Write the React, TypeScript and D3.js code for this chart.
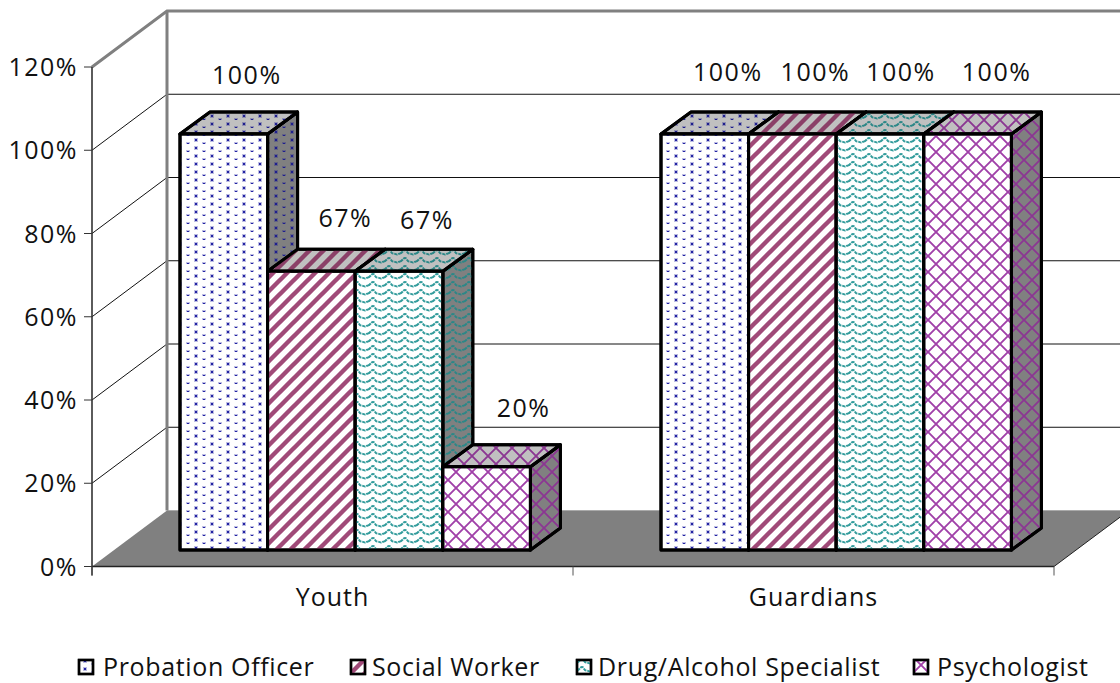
import React from 'react';
import * as d3 from 'd3';

const categories = ['Youth', 'Guardians'];
const seriesNames = ['Probation Officer', 'Social Worker', 'Drug/Alcohol Specialist', 'Psychologist'];
const youthValues = [1, 0.67, 0.67, 0.2];
const guardianValues = [1, 1, 1, 1];
const yTicks = [0, 0.2, 0.4, 0.6, 0.8, 1, 1.2];
const seriesColors = ['#2424a4', '#a04a78', '#339c9c', '#a040a8'];
const valueLabels = [
  ['100%', '67%', '67%', '20%'],
  ['100%', '100%', '100%', '100%'],
];
// label position tweaks relative to the bar centre and bar top
const labelDx = [[23, 34, 28, 37], [23, 23, 21, 29]];
const labelDy = [[-50, -44, -42, -50], [-53, -53, -53, -53]];
const legendSwatchX = [79, 351, 577, 914];
const legendTextX = [103, 372, 598, 937];

const W = 1120, H = 683;
const FONT = '"Open Sans", "Noto Sans", sans-serif';
const axisX = 92, depthX = 75, depthY = 56;
const barDX = 30, barDY = 22;
const y = d3.scaleLinear().domain([0, 1.2]).range([566.5, 67]);
const x = d3.scaleBand<string>().domain(categories).range([axisX, 1054]);
const barY = d3.scaleLinear().domain([0, 1]).range([550, 134]);
const barW = 87.6;
const groupOffset = 88;

function patternContent(i: number, color: string) {
  if (i === 0) return (
    <g fill={color}>
      <rect x={2} y={2} width={4} height={4} opacity={0.3} />
      <rect x={3} y={3} width={2} height={2} />
      <rect x={10} y={6} width={4} height={4} opacity={0.3} />
      <rect x={11} y={7} width={2} height={2} />
    </g>
  );
  if (i === 1) return <g stroke={color} strokeWidth={4.4} fill="none"><path d="M-4,4 L4,-4 M-4,18 L18,-4 M10,18 L18,10" /></g>;
  if (i === 2) return <path d="M0,5.5 C2,5.5 3,2 5,2 C7,2 7,5.5 9,5.5 C11,5.5 12,6.5 13,6.5 C14,6.5 15,5.5 16,5.5" stroke={color} strokeWidth={2} fill="none" strokeDasharray="3.5 0.8" />;
  return <g stroke={color} strokeWidth={1.9} fill="none"><path d="M0,0 L16,16 M16,0 L0,16" /></g>;
}
const patternSizes = [[16, 8], [14, 14], [16, 8], [16, 16]];

function Bar({ gx, i, v }: { gx: number; i: number; v: number }) {
  const x0 = gx + i * barW, x1 = x0 + barW;
  const yT = barY(v), yB = barY(0);
  const pt = (a: number[][]) => a.map((p) => p.join(',')).join(' ');
  const top = pt([[x0, yT], [x0 + barDX, yT - barDY], [x1 + barDX, yT - barDY], [x1, yT]]);
  const side = pt([[x1, yT], [x1 + barDX, yT - barDY], [x1 + barDX, yB - barDY], [x1, yB]]);
  return (
    <g stroke="#000" strokeWidth={3} strokeLinejoin="round">
      <polygon points={side} fill="#808080" />
      <polygon points={side} fill={`url(#p${i}s)`} />
      <polygon points={top} fill="#c0c0c0" />
      <polygon points={top} fill={`url(#p${i}s)`} />
      <rect x={x0} y={yT} width={barW} height={yB - yT} fill="#fff" />
      <rect x={x0} y={yT} width={barW} height={yB - yT} fill={`url(#p${i})`} />
    </g>
  );
}

export default function App() {
  const values = [youthValues, guardianValues];
  return (
    <svg width={W} height={H} viewBox={`0 0 ${W} ${H}`} style={{ position: 'absolute', left: 0, top: 0, background: '#fff' }} fontFamily={FONT} fill="#111">
      <defs>
        {seriesColors.map((c, i) => (
          <React.Fragment key={i}>
            <pattern id={`p${i}`} width={patternSizes[i][0]} height={patternSizes[i][1]} patternUnits="userSpaceOnUse">{patternContent(i, c)}</pattern>
            <pattern id={`p${i}s`} width={patternSizes[i][0]} height={patternSizes[i][1]} patternUnits="userSpaceOnUse">{patternContent(i, d3.color(c)!.darker(0.4).formatHex())}</pattern>
            <pattern id={`l${i}`} width={patternSizes[i][0]} height={patternSizes[i][1]} patternUnits="userSpaceOnUse" patternTransform="translate(1 1)">{patternContent(i, c)}</pattern>
          </React.Fragment>
        ))}
      </defs>
      {/* floor */}
      <polygon points={`${axisX},${y(0)} ${axisX + depthX},${y(0) - depthY} ${1054 + depthX},${y(0) - depthY} 1054,${y(0)}`} fill="#808080" />
      <line x1={167} x2={W} y1={y(0) - depthY} y2={y(0) - depthY} stroke="#aaa" strokeWidth={1} />
      <line x1={1054} y1={y(0)} x2={1054 + depthX} y2={y(0) - depthY} stroke="#222" strokeWidth={1} />
      {/* gridlines */}
      {yTicks.filter((t) => t > 0 && t < 1.2).map((t) => (
        <g key={t} stroke="#111" strokeWidth={1}>
          <line x1={axisX} y1={y(t)} x2={axisX + depthX} y2={y(t) - depthY} />
          <line x1={axisX + depthX} y1={y(t) - depthY} x2={W} y2={y(t) - depthY} />
        </g>
      ))}
      {/* walls */}
      <path d={`M${axisX},${y(1.2)} L${axisX + depthX},${y(1.2) - depthY} H${W}`} fill="none" stroke="#808080" strokeWidth={3} />
      <line x1={167} x2={167} y1={y(1.2) - depthY} y2={y(0) - depthY} stroke="#808080" strokeWidth={3} />
      {/* axes */}
      <line x1={axisX} x2={axisX} y1={y(1.2)} y2={y(0) + 9} stroke="#333" strokeWidth={1.6} />
      <line x1={axisX} x2={1054} y1={y(0)} y2={y(0)} stroke="#222" strokeWidth={1.6} />
      {yTicks.map((t) => (
        <g key={t}>
          <line x1={84} x2={axisX} y1={y(t)} y2={y(t)} stroke="#333" strokeWidth={1} />
          <text x={78} y={y(t)} dy="0.36em" textAnchor="end" fontSize={25} letterSpacing={1.5}>{d3.format('.0%')(t)}</text>
        </g>
      ))}
      {[92, 573, 1054].map((tx) => (
        <line key={tx} x1={tx} x2={tx} y1={y(0)} y2={y(0) + 9} stroke="#555" strokeWidth={1} />
      ))}
      {categories.map((c) => (
        <text key={c} x={x(c)! + x.bandwidth() / 2} y={606} textAnchor="middle" fontSize={25} letterSpacing={1}>{c}</text>
      ))}
      {/* bars */}
      {categories.map((c, ci) => {
        const gx = x(c)! + groupOffset;
        return (
          <g key={c}>
            {values[ci].map((v, i) => <Bar key={i} gx={gx} i={i} v={v} />)}
            {values[ci].map((v, i) => (
              <text key={i} x={gx + (i + 0.5) * barW + labelDx[ci][i]} y={barY(v) + labelDy[ci][i]} textAnchor="middle" fontSize={25} letterSpacing={1.5}>{valueLabels[ci][i]}</text>
            ))}
          </g>
        );
      })}
      {/* legend */}
      {seriesNames.map((s, i) => (
        <g key={s}>
          <rect x={legendSwatchX[i]} y={660} width={14} height={14} fill="#fff" stroke="#000" strokeWidth={2.4} />
          <rect x={legendSwatchX[i]} y={660} width={14} height={14} fill={`url(#l${i})`} stroke="#000" strokeWidth={2.4} />
          <text x={legendTextX[i]} y={676} fontSize={25} letterSpacing={0.65}>{s}</text>
        </g>
      ))}
    </svg>
  );
}
